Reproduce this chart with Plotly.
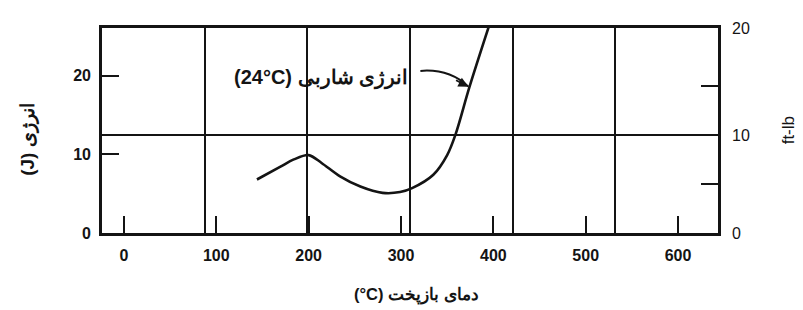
import plotly.graph_objects as go

# ---- data ----
temps = [144, 169, 184, 200, 214, 234, 256, 280, 299, 312, 335, 350, 359, 374, 395]
energy_j = [6.8, 8.4, 9.35, 9.9, 8.9, 7.2, 5.9, 5.1, 5.2, 5.7, 7.4, 9.9, 12.5, 18.5, 26.2]

x_ticks = [0, 100, 200, 300, 400, 500, 600]
y_ticks_j = [0, 10, 20]
y_ticks_ftlb = [0, 10, 20.9]
y_ticktext_ftlb = ["0", "10", "20"]
y_minor_ftlb = [5, 15]

curve_label = "(24°C) انرژی شاربی"
x_title = "(°C) دمای بازپخت"
y_title = "(J) انرژی"
y2_title = "ft-lb"

FONT = "Liberation Sans, Arial, sans-serif"
INK = "#141414"

fig = go.Figure()

fig.add_trace(go.Scatter(
    x=temps, y=energy_j, mode="lines",
    line=dict(color=INK, width=2.6, shape="spline", smoothing=0.9),
    hoverinfo="skip", showlegend=False,
))
# helper invisible traces so that the overlay axes are drawn
fig.add_trace(go.Scatter(x=[0], y=[0], xaxis="x2", yaxis="y", mode="markers",
                         marker=dict(opacity=0), showlegend=False, hoverinfo="skip"))
fig.add_trace(go.Scatter(x=[0], y=[0], xaxis="x", yaxis="y2", mode="markers",
                         marker=dict(opacity=0), showlegend=False, hoverinfo="skip"))

tickfont = dict(family=FONT, size=16, color=INK, weight="bold")

# page body has an 8px margin: figure is 795x302 placed at (8, 8)
fig.update_layout(
    width=795, height=302,
    margin=dict(l=94, r=85, t=14, b=77),
    paper_bgcolor="white", plot_bgcolor="white",
    xaxis=dict(
        range=[-23.8, 643.3], tickvals=x_ticks, ticks="inside", ticklen=17,
        tickwidth=1.6, tickcolor=INK, showgrid=False, zeroline=False,
        showline=True, linecolor=INK, linewidth=2.6, mirror=True,
        tickfont=tickfont, ticklabelstandoff=6,
    ),
    xaxis2=dict(
        range=[0, 6], dtick=1, overlaying="x", showgrid=True, gridcolor=INK,
        gridwidth=1.6, showticklabels=False, ticks="", zeroline=False, showline=False,
    ),
    yaxis=dict(
        range=[0, 26.05], tickvals=y_ticks_j, ticks="inside", ticklen=17,
        tickwidth=1.6, tickcolor=INK, showgrid=False, zeroline=False,
        showline=True, linecolor=INK, linewidth=2.6,
        tickfont=tickfont, ticklabelstandoff=5,
    ),
    yaxis2=dict(
        range=[0, 20.9], tickvals=y_ticks_ftlb, ticktext=y_ticktext_ftlb, ticks="",
        overlaying="y", side="right",
        showgrid=True, gridcolor=INK, gridwidth=1.6, zeroline=False,
        showline=True, linecolor=INK, linewidth=2.6,
        tickfont=dict(family=FONT, size=16, color=INK), ticklabelstandoff=8,
        minor=dict(tickvals=y_minor_ftlb, ticks="inside", ticklen=17,
                   tickwidth=1.6, tickcolor=INK, showgrid=False),
    ),
    showlegend=False,
)

# curve label and curved leader arrow
head_x, head_y = temps[13], energy_j[13]
fig.add_annotation(x=310, y=19.7, xref="x", yref="y", text=curve_label,
                   showarrow=False, xanchor="right", yanchor="middle",
                   font=dict(family=FONT, size=20, color=INK, weight="bold"))
fig.add_shape(type="path", xref="x", yref="y",
              path=f"M 321,20.6 Q 352,20.9 {head_x - 1},{head_y + 0.1}",
              line=dict(color=INK, width=2))
fig.add_annotation(x=head_x - 1, y=head_y + 0.1, ax=358, ay=19.5, xref="x", yref="y",
                   axref="x", ayref="y", text="", showarrow=True, arrowhead=2,
                   arrowsize=1.1, arrowwidth=1.8, arrowcolor=INK)

# axis titles
fig.add_annotation(x=0.51, y=-0.30, xref="paper", yref="paper", text=x_title,
                   showarrow=False, xanchor="center", yanchor="middle",
                   font=dict(family=FONT, size=16.5, color=INK, weight="bold"))
fig.add_annotation(x=-0.12, y=0.455, xref="paper", yref="paper", text=y_title,
                   showarrow=False, textangle=-90, xanchor="center", yanchor="middle",
                   font=dict(family=FONT, size=19, color=INK, weight="bold"))
fig.add_annotation(x=1.115, y=0.50, xref="paper", yref="paper", text=y2_title,
                   showarrow=False, textangle=-90, xanchor="center", yanchor="middle",
                   font=dict(family=FONT, size=17, color=INK))

fig.write_html("out.html")
